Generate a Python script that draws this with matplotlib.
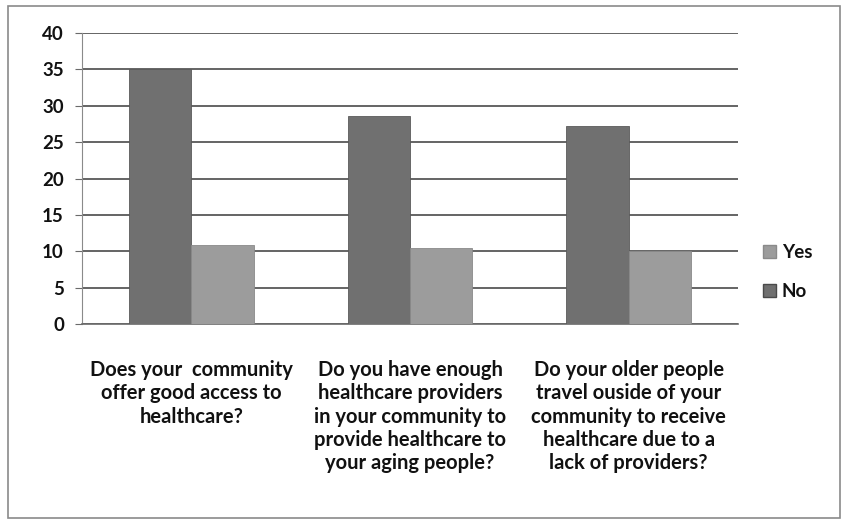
import matplotlib.pyplot as plt
import numpy as np
from matplotlib.patches import Patch, Rectangle

plt.rcParams["font.family"] = ["Lato", "DejaVu Sans"]

questions = [
    "Does your  community\noffer good access to\nhealthcare?",
    "Do you have enough\nhealthcare providers\nin your community to\nprovide healthcare to\nyour aging people?",
    "Do your older people\ntravel ouside of your\ncommunity to receive\nhealthcare due to a\nlack of providers?",
]
no_counts = [35, 28.6, 27.2]
yes_counts = [10.8, 10.5, 10.1]
y_ticks = [0, 5, 10, 15, 20, 25, 30, 35, 40]

DARK = "#707070"
LIGHT = "#9c9c9c"


def main() -> None:
    fig = plt.figure(figsize=(8.41, 5.22), dpi=100)
    ax = fig.add_axes([82 / 841, 1 - 324 / 522, (738 - 82) / 841, (324 - 33) / 522])

    # outer chart border
    fig.patches.append(Rectangle((8 / 841, 4 / 522), 832 / 841, 512 / 522,
                                 transform=fig.transFigure, fill=False,
                                 edgecolor="#8a8a8a", linewidth=1.2))

    x = np.arange(len(questions))
    width = 1 / 3.5
    ax.bar(x - width / 2, no_counts, width, color=DARK, edgecolor="#5a5a5a",
           linewidth=0.6, zorder=3)
    ax.bar(x + width / 2, yes_counts, width, color=LIGHT, edgecolor="#8a8a8a",
           linewidth=0.6, zorder=3)

    ax.set_xlim(-0.5, len(questions) - 0.5)
    ax.set_ylim(0, 40)
    ax.set_yticks(y_ticks)
    ax.set_yticklabels([str(t) for t in y_ticks], fontsize=13.5,
                       color="#111111", fontweight="bold")
    ax.yaxis.grid(True, color="#4a4a4a", linewidth=1.2, zorder=0)
    ax.set_axisbelow(True)

    ax.set_xticks(x)
    ax.set_xticklabels(questions, fontsize=14.5, color="#111111",
                       fontweight="bold", linespacing=1.2, va="top")
    ax.tick_params(axis="x", length=0, pad=26)
    ax.tick_params(axis="y", length=5, color="#6a6a6a", direction="out", pad=8)

    for side in ("top", "right"):
        ax.spines[side].set_visible(False)
    ax.spines["left"].set_color("#8a8a8a")
    ax.spines["bottom"].set_color("#6a6a6a")
    ax.spines["bottom"].set_linewidth(1.2)

    handles = [Patch(facecolor=LIGHT, edgecolor="#8a8a8a", label="Yes"),
               Patch(facecolor=DARK, edgecolor="#4a4a4a", label="No")]
    leg = fig.legend(handles=handles, loc="center left",
                     bbox_to_anchor=(746 / 841, 1 - 272 / 522), frameon=False,
                     fontsize=13.5, handlelength=0.7, handleheight=0.7,
                     handletextpad=0.3, labelspacing=1.2)
    for text in leg.get_texts():
        text.set_fontweight("bold")
        text.set_color("#111111")

    fig.savefig("out.png", dpi=100)


if __name__ == "__main__":
    main()
